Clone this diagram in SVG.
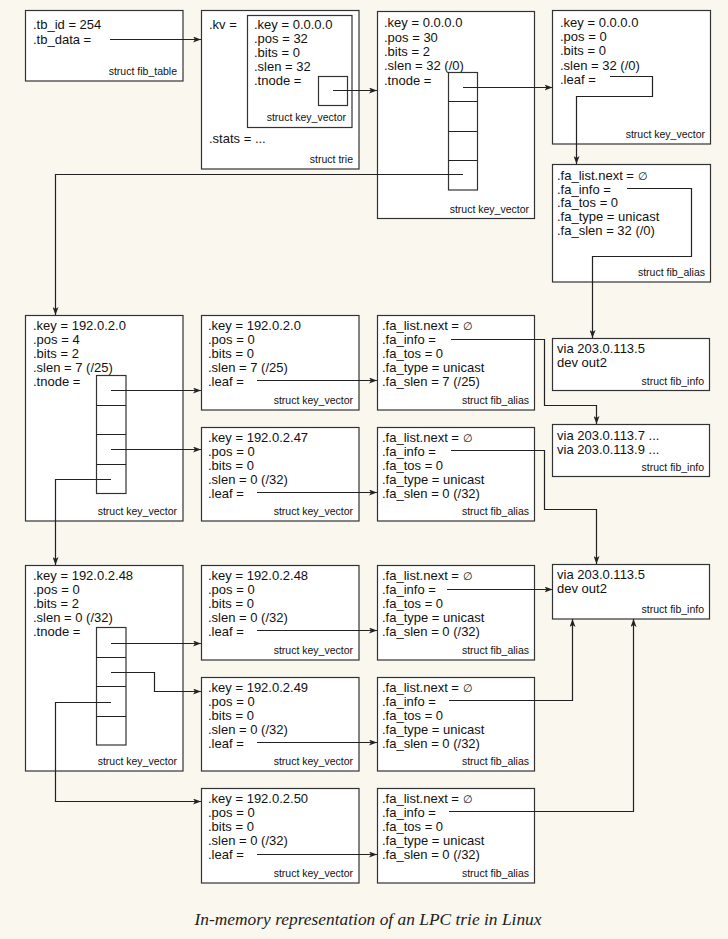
<svg xmlns="http://www.w3.org/2000/svg" width="728" height="939" viewBox="0 0 728 939">
<style>
.b{fill:#fff;stroke:#333;stroke-width:1.2}
.t{font-family:"Liberation Sans",Arial,Helvetica,sans-serif;font-size:13px;fill:#111}
.e{font-size:10.5px}
.l{font-family:"Liberation Sans",Arial,Helvetica,sans-serif;font-size:10.5px;fill:#111;text-anchor:end}
.c{fill:none;stroke:#222;stroke-width:1.2;marker-end:url(#ah)}
.cap{font-family:"Liberation Serif","Times New Roman",serif;font-style:italic;font-size:17.5px;fill:#222;text-anchor:middle}
</style>
<defs>
<marker id="ah" markerWidth="8" markerHeight="6" refX="8" refY="3" orient="auto" markerUnits="userSpaceOnUse"><path d="M0,0 L8,3 L0,6 L2,3 z" fill="#222"/></marker>
</defs>
<rect width="728" height="939" fill="#faf7ef"/>

<g id="fib_table">
<rect class="b" x="25.5" y="10.5" width="157.5" height="70.5"/>
<text class="t" x="33" y="29.3">.tb_id = 254</text>
<text class="t" x="33" y="43.6">.tb_data =</text>
<text class="l" x="177" y="74.5">struct fib_table</text>
</g>

<g id="trie">
<rect class="b" x="201.5" y="10.5" width="157.5" height="158.5"/>
<text class="t" x="209" y="29">.kv =</text>
<text class="t" x="209" y="143">.stats = ...</text>
<text class="l" x="353" y="163">struct trie</text>
<g id="trie_kv">
<rect class="b" x="247.5" y="15.5" width="104.5" height="112"/>
<text class="t" x="254" y="28.6">.key = 0.0.0.0</text>
<text class="t" x="254" y="42.8">.pos = 32</text>
<text class="t" x="254" y="57">.bits = 0</text>
<text class="t" x="254" y="71.2">.slen = 32</text>
<text class="t" x="254" y="85.4">.tnode =</text>
<rect class="b" x="318.5" y="76.5" width="29" height="29"/>
<text class="l" x="346" y="121">struct key_vector</text>
</g>
</g>

<g id="kv_root">
<rect class="b" x="377.5" y="11.5" width="157" height="207"/>
<text class="t" x="384" y="27.3">.key = 0.0.0.0</text>
<text class="t" x="384" y="41.6">.pos = 30</text>
<text class="t" x="384" y="55.9">.bits = 2</text>
<text class="t" x="384" y="70.2">.slen = 32 (/0)</text>
<text class="t" x="384" y="84.5">.tnode =</text>
<rect class="b" x="448.5" y="72.5" width="29" height="117.5"/>
<path d="M448.5,101.5H477.5M448.5,131.5H477.5M448.5,160.5H477.5" stroke="#222" stroke-width="1.2"/>
<text class="l" x="529" y="213">struct key_vector</text>
</g>

<g id="kv_leaf_0">
<rect class="b" x="552.5" y="10.5" width="158" height="133.5"/>
<text class="t" x="560" y="26.7">.key = 0.0.0.0</text>
<text class="t" x="560" y="41">.pos = 0</text>
<text class="t" x="560" y="55.3">.bits = 0</text>
<text class="t" x="560" y="69.6">.slen = 32 (/0)</text>
<text class="t" x="560" y="83.6">.leaf =</text>
<text class="l" x="705" y="138">struct key_vector</text>
</g>

<g id="fa_0">
<rect class="b" x="552.5" y="164.5" width="158" height="117.5"/>
<text class="t" x="557" y="179.9">.fa_list.next = <tspan class="e">∅</tspan></text>
<text class="t" x="557" y="193.7">.fa_info =</text>
<text class="t" x="557" y="207.4">.fa_tos = 0</text>
<text class="t" x="557" y="221.1">.fa_type = unicast</text>
<text class="t" x="557" y="234.8">.fa_slen = 32 (/0)</text>
<text class="l" x="705" y="276">struct fib_alias</text>
</g>

<g id="fi_1">
<rect class="b" x="552.5" y="338.5" width="157" height="52"/>
<text class="t" x="557" y="352.8">via 203.0.113.5</text>
<text class="t" x="557" y="367">dev out2</text>
<text class="l" x="704" y="384.5">struct fib_info</text>
</g>

<g id="fi_2">
<rect class="b" x="552.5" y="424.5" width="157" height="52"/>
<text class="t" x="557" y="440">via 203.0.113.7 ...</text>
<text class="t" x="557" y="453.5">via 203.0.113.9 ...</text>
<text class="l" x="704" y="470.5">struct fib_info</text>
</g>

<g id="kv_192_0_2_0_tnode">
<rect class="b" x="25.5" y="315.5" width="157.5" height="205.5"/>
<text class="t" x="33" y="329.8">.key = 192.0.2.0</text>
<text class="t" x="33" y="343.8">.pos = 4</text>
<text class="t" x="33" y="357.8">.bits = 2</text>
<text class="t" x="33" y="371.8">.slen = 7 (/25)</text>
<text class="t" x="33" y="385.8">.tnode =</text>
<rect class="b" x="96.5" y="375.5" width="29.5" height="118"/>
<path d="M96.5,405.5H126M96.5,434.5H126M96.5,464.5H126" stroke="#222" stroke-width="1.2"/>
<text class="l" x="177" y="514.5">struct key_vector</text>
</g>

<g id="kv_192_0_2_0_leaf">
<rect class="b" x="201.5" y="315.5" width="157.5" height="94.5"/>
<text class="t" x="208" y="329.8">.key = 192.0.2.0</text>
<text class="t" x="208" y="343.8">.pos = 0</text>
<text class="t" x="208" y="357.8">.bits = 0</text>
<text class="t" x="208" y="371.8">.slen = 7 (/25)</text>
<text class="t" x="208" y="385.8">.leaf =</text>
<text class="l" x="353" y="404">struct key_vector</text>
</g>

<g id="kv_192_0_2_47">
<rect class="b" x="201.5" y="427.5" width="157.5" height="93.5"/>
<text class="t" x="208" y="441.8">.key = 192.0.2.47</text>
<text class="t" x="208" y="455.8">.pos = 0</text>
<text class="t" x="208" y="469.8">.bits = 0</text>
<text class="t" x="208" y="483.8">.slen = 0 (/32)</text>
<text class="t" x="208" y="497.8">.leaf =</text>
<text class="l" x="353" y="515">struct key_vector</text>
</g>

<g id="fa_192_0_2_0">
<rect class="b" x="377.5" y="315.5" width="157" height="94.5"/>
<text class="t" x="382" y="329.9">.fa_list.next = <tspan class="e">∅</tspan></text>
<text class="t" x="382" y="343.9">.fa_info =</text>
<text class="t" x="382" y="357.9">.fa_tos = 0</text>
<text class="t" x="382" y="371.9">.fa_type = unicast</text>
<text class="t" x="382" y="385.9">.fa_slen = 7 (/25)</text>
<text class="l" x="529" y="404">struct fib_alias</text>
</g>

<g id="fa_192_0_2_47">
<rect class="b" x="377.5" y="427.5" width="157" height="93.5"/>
<text class="t" x="382" y="441.9">.fa_list.next = <tspan class="e">∅</tspan></text>
<text class="t" x="382" y="455.9">.fa_info =</text>
<text class="t" x="382" y="469.9">.fa_tos = 0</text>
<text class="t" x="382" y="483.9">.fa_type = unicast</text>
<text class="t" x="382" y="497.9">.fa_slen = 0 (/32)</text>
<text class="l" x="529" y="515">struct fib_alias</text>
</g>

<g id="kv_192_0_2_48_tnode">
<rect class="b" x="25.5" y="565.5" width="157.5" height="205.5"/>
<text class="t" x="33" y="579.8">.key = 192.0.2.48</text>
<text class="t" x="33" y="593.8">.pos = 0</text>
<text class="t" x="33" y="607.8">.bits = 2</text>
<text class="t" x="33" y="621.8">.slen = 0 (/32)</text>
<text class="t" x="33" y="635.8">.tnode =</text>
<rect class="b" x="96.5" y="627.5" width="29.5" height="117.5"/>
<path d="M96.5,657.5H126M96.5,686.5H126M96.5,716.5H126" stroke="#222" stroke-width="1.2"/>
<text class="l" x="177" y="764.5">struct key_vector</text>
</g>

<g id="kv_192_0_2_48_leaf">
<rect class="b" x="201.5" y="565.5" width="157.5" height="94.5"/>
<text class="t" x="208" y="579.8">.key = 192.0.2.48</text>
<text class="t" x="208" y="593.8">.pos = 0</text>
<text class="t" x="208" y="607.8">.bits = 0</text>
<text class="t" x="208" y="621.8">.slen = 0 (/32)</text>
<text class="t" x="208" y="635.8">.leaf =</text>
<text class="l" x="353" y="654">struct key_vector</text>
</g>

<g id="kv_192_0_2_49">
<rect class="b" x="201.5" y="677.5" width="157.5" height="93.5"/>
<text class="t" x="208" y="691.8">.key = 192.0.2.49</text>
<text class="t" x="208" y="705.8">.pos = 0</text>
<text class="t" x="208" y="719.8">.bits = 0</text>
<text class="t" x="208" y="733.8">.slen = 0 (/32)</text>
<text class="t" x="208" y="747.8">.leaf =</text>
<text class="l" x="353" y="765">struct key_vector</text>
</g>

<g id="kv_192_0_2_50">
<rect class="b" x="201.5" y="788.5" width="157.5" height="94.5"/>
<text class="t" x="208" y="802.8">.key = 192.0.2.50</text>
<text class="t" x="208" y="816.8">.pos = 0</text>
<text class="t" x="208" y="830.8">.bits = 0</text>
<text class="t" x="208" y="844.8">.slen = 0 (/32)</text>
<text class="t" x="208" y="858.8">.leaf =</text>
<text class="l" x="353" y="877">struct key_vector</text>
</g>

<g id="fa_192_0_2_48">
<rect class="b" x="377.5" y="565.5" width="157" height="94.5"/>
<text class="t" x="382" y="579.9">.fa_list.next = <tspan class="e">∅</tspan></text>
<text class="t" x="382" y="593.9">.fa_info =</text>
<text class="t" x="382" y="607.9">.fa_tos = 0</text>
<text class="t" x="382" y="621.9">.fa_type = unicast</text>
<text class="t" x="382" y="635.9">.fa_slen = 0 (/32)</text>
<text class="l" x="529" y="654">struct fib_alias</text>
</g>

<g id="fa_192_0_2_49">
<rect class="b" x="377.5" y="677.5" width="157" height="93.5"/>
<text class="t" x="382" y="691.9">.fa_list.next = <tspan class="e">∅</tspan></text>
<text class="t" x="382" y="705.9">.fa_info =</text>
<text class="t" x="382" y="719.9">.fa_tos = 0</text>
<text class="t" x="382" y="733.9">.fa_type = unicast</text>
<text class="t" x="382" y="747.9">.fa_slen = 0 (/32)</text>
<text class="l" x="529" y="765">struct fib_alias</text>
</g>

<g id="fa_192_0_2_50">
<rect class="b" x="377.5" y="788.5" width="157" height="94.5"/>
<text class="t" x="382" y="802.9">.fa_list.next = <tspan class="e">∅</tspan></text>
<text class="t" x="382" y="816.9">.fa_info =</text>
<text class="t" x="382" y="830.9">.fa_tos = 0</text>
<text class="t" x="382" y="844.9">.fa_type = unicast</text>
<text class="t" x="382" y="858.9">.fa_slen = 0 (/32)</text>
<text class="l" x="529" y="877">struct fib_alias</text>
</g>

<g id="fi_3">
<rect class="b" x="552.5" y="564.5" width="157" height="54.5"/>
<text class="t" x="557" y="579">via 203.0.113.5</text>
<text class="t" x="557" y="593.3">dev out2</text>
<text class="l" x="704" y="612.5">struct fib_info</text>
</g>

<g id="connectors">
<path class="c" d="M110,39.5H201"/>
<path class="c" d="M333,90.5H377"/>
<path class="c" d="M463,87.5H552.5"/>
<path class="c" d="M610,76.5H652.5V96.5H576.5V164"/>
<path class="c" d="M627,188.5H691.5V256.5H592.5V338"/>
<path class="c" d="M463,174.5H55.5V315"/>
<path class="c" d="M111,390.5H201"/>
<path class="c" d="M111,449.5H201"/>
<path class="c" d="M111,479.5H55.5V565"/>
<path class="c" d="M257,380.5H377"/>
<path class="c" d="M257,492.5H377"/>
<path class="c" d="M451,339.5H544.5V405.5H596.5V424"/>
<path class="c" d="M451,450.5H544.5V509.5H596.5V564"/>
<path class="c" d="M111,643.5H201"/>
<path class="c" d="M111,672.5H154.5V691.5H201"/>
<path class="c" d="M111,702.5H55.5V801.5H201"/>
<path class="c" d="M257,630.5H377"/>
<path class="c" d="M257,742.5H377"/>
<path class="c" d="M257,854.5H377"/>
<path class="c" d="M447,589.5H552.5"/>
<path class="c" d="M449,700.5H572.5V619"/>
<path class="c" d="M449,811.5H633.5V619"/>
</g>

<text class="cap" x="368" y="925" textLength="347" lengthAdjust="spacingAndGlyphs">In-memory representation of an LPC trie in Linux</text>
</svg>
